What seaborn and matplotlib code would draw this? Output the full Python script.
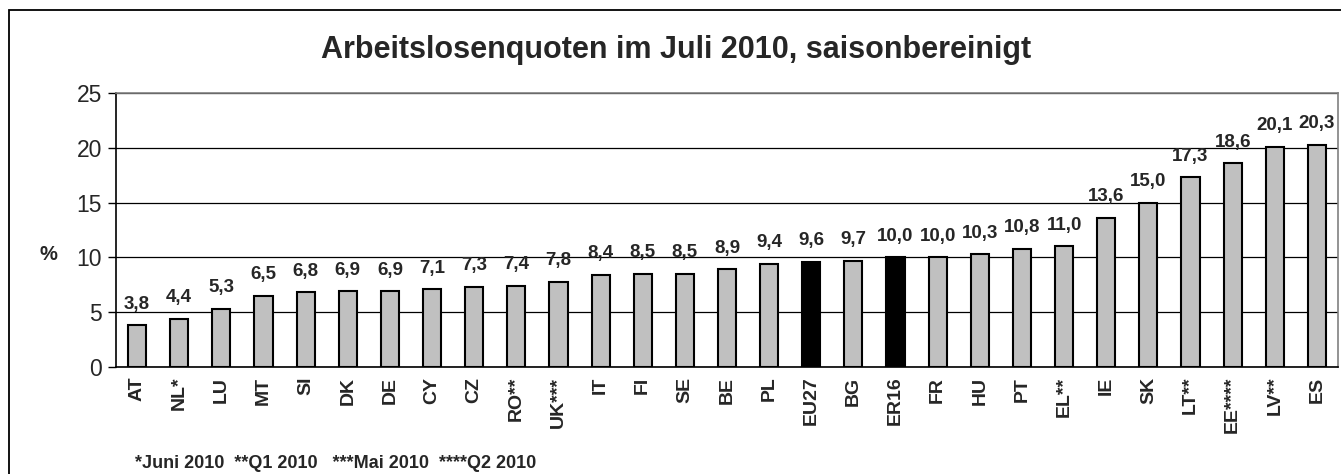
import matplotlib
matplotlib.use("Agg")
import matplotlib.pyplot as plt
import seaborn as sns
import numpy as np
import pandas as pd
from matplotlib.patches import Rectangle

categories = ["AT", "NL*", "LU", "MT", "SI", "DK", "DE", "CY", "CZ", "RO**", "UK***",
              "IT", "FI", "SE", "BE", "PL", "EU27", "BG", "ER16", "FR", "HU", "PT",
              "EL**", "IE", "SK", "LT**", "EE****", "LV**", "ES"]
values = [3.8, 4.4, 5.3, 6.5, 6.8, 6.9, 6.9, 7.1, 7.3, 7.4, 7.8, 8.4, 8.5, 8.5, 8.9,
          9.4, 9.6, 9.7, 10.0, 10.0, 10.3, 10.8, 11.0, 13.6, 15.0, 17.3, 18.6, 20.1, 20.3]
highlight = ["EU27", "ER16"]
yticks = [0, 5, 10, 15, 20, 25]
title = "Arbeitslosenquoten im Juli 2010, saisonbereinigt"
footnote = "*Juni 2010  **Q1 2010   ***Mai 2010  ****Q2 2010"

sns.set_theme(style="white")
plt.rcParams["font.family"] = ["Liberation Sans", "DejaVu Sans"]

df = pd.DataFrame({"cat": categories, "val": values})
palette = {c: ("#000000" if c in highlight else "#C0C0C0") for c in categories}

W, H = 1341, 474
fig = plt.figure(figsize=(W / 100, H / 100), dpi=100)
ax = fig.add_axes([116 / W, 1 - 367 / H, (1338 - 116) / W, (367 - 93) / H])

sns.barplot(data=df, x="cat", y="val", hue="cat", palette=palette, legend=False,
            width=0.43, edgecolor="black", linewidth=1.5, saturation=1, ax=ax)

ax.set_ylim(0, 25)
ax.set_xlim(-0.5, len(categories) - 0.5)
ax.set_yticks(yticks)
ax.set_yticklabels([str(t) for t in yticks], fontsize=16.5)
ax.yaxis.grid(True, color="black", linewidth=0.9)
ax.set_axisbelow(True)

ax.set_xticks(range(len(categories)))
ax.set_xticklabels(categories, rotation=90, fontsize=14, fontweight="bold")
ax.set_xticks(np.arange(-0.5, len(categories), 1.0), minor=True)
ax.tick_params(axis="x", which="major", length=0, pad=7)
ax.tick_params(axis="x", which="minor", length=7, width=1, color="black", direction="out")
ax.tick_params(axis="y", which="major", length=6, width=1, color="black", direction="out", left=True, pad=4)
ax.set_xlabel("")
ax.set_ylabel("")

for side in ["left", "bottom"]:
    ax.spines[side].set_color("black")
    ax.spines[side].set_linewidth(1.2)
for side in ["top", "right"]:
    ax.spines[side].set_color("#808080")
    ax.spines[side].set_linewidth(1.2)

for cont in ax.containers:
    ax.bar_label(cont, labels=[f"{v:.1f}".replace(".", ",") for v in cont.datavalues],
                 padding=9, fontsize=13.5, fontweight="bold")

fig.text(676 / W, 1 - 50 / H, title, ha="center", va="center", fontsize=22, fontweight="bold")
fig.text(48 / W, 1 - 255 / H, "%", ha="center", va="center", fontsize=14.5, fontweight="bold")
fig.text(135 / W, 1 - 463 / H, footnote, ha="left", va="center", fontsize=13, fontweight="bold")

fig.patches.append(Rectangle((9 / W, -0.05), 1.2, 1 - 10 / H + 0.05, transform=fig.transFigure,
                             fill=False, edgecolor="black", linewidth=1.3))

fig.savefig("out.png", dpi=100)
